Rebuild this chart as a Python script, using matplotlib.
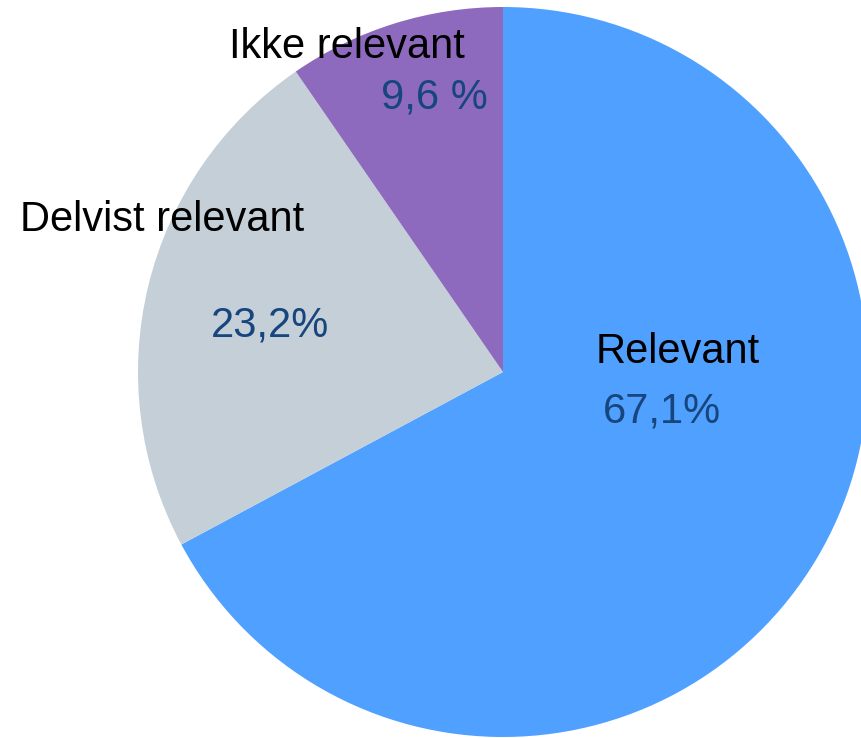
import matplotlib.pyplot as plt

labels = ['Relevant', 'Delvist relevant', 'Ikke relevant']
values = [67.1, 23.2, 9.6]
pct_labels = ['67,1%', '23,2%', '9,6 %']
colors = ['#50A1FF', '#C5CFD8', '#8E6ABE']

plt.rcParams['font.family'] = ['Liberation Sans', 'DejaVu Sans']

W, H = 861, 738
fig = plt.figure(figsize=(W / 100, H / 100), dpi=100)
ax = fig.add_axes([0, 0, 1, 1])
ax.set_xlim(0, W)
ax.set_ylim(0, H)
ax.set_aspect('equal')
ax.axis('off')

ax.pie(values, colors=colors, startangle=90, counterclock=False,
       center=(503, H - 372), radius=365, frame=True,
       wedgeprops=dict(linewidth=0))
ax.set_xlim(0, W)
ax.set_ylim(0, H)
ax.axis('off')

# label positions in pixel coords (x center, baseline y from top)
name_pos = [(678, 363), (162, 231), (347, 58)]
pct_pos = [(662, 422), (270, 337), (434, 108)]

for name, pct, (nx, ny), (px, py) in zip(labels, pct_labels, name_pos, pct_pos):
    ax.text(nx, H - ny, name, ha='center', va='baseline', fontsize=30, color='black')
    ax.text(px, H - py, pct, ha='center', va='baseline', fontsize=30, color='#17457E')

fig.savefig('out.png', dpi=100)
